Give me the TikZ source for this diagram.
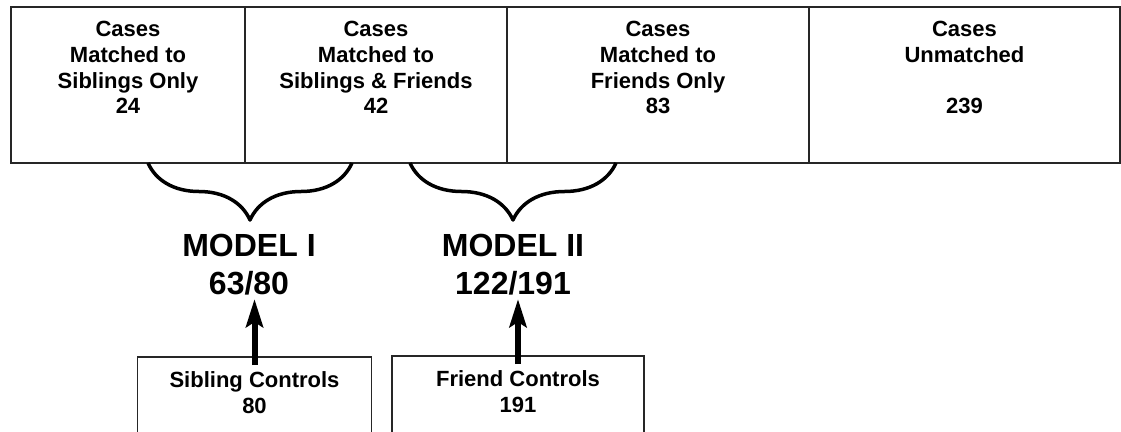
\documentclass[tikz,border=0pt]{standalone}
\usepackage{fontspec}
\setmainfont{Liberation Sans}
\usetikzlibrary{positioning,arrows.meta,decorations.pathreplacing}

\tikzset{
  casebox/.style={draw=black!85, line width=1.6pt, outer sep=0pt, inner sep=0pt,
    minimum height=156pt, align=center, text depth=35pt,
    font=\bfseries\fontsize{22}{25.7}\selectfont},
  ctlbox/.style={draw=black!85, line width=1.6pt, anchor=north, inner sep=0pt,
    minimum height=110pt, align=center, text depth=38pt,
    font=\bfseries\fontsize{22}{26}\selectfont},
  model/.style={anchor=north, align=center, font=\bfseries\fontsize{32}{38}\selectfont},
  bracket/.style={decorate, decoration={brace, amplitude=57pt, mirror},
    line width=3.5pt, line join=round},
  ctlarrow/.style={-{Stealth[length=28pt,width=17pt,inset=5pt]}, line width=6pt}
}

\begin{document}
\begin{tikzpicture}[x=1pt,y=-1pt]
  \useasboundingbox (0,0) rectangle (1121,431);
  \clip (0,0) rectangle (1121,431);
  % cases
  \node[casebox, minimum width=234pt, anchor=north west] (sibonly) at (11,7) {Cases\\Matched to\\Siblings Only\\24};
  \node[casebox, minimum width=262pt, right=0pt of sibonly] (both) {Cases\\Matched to\\Siblings \& Friends\\42};
  \node[casebox, minimum width=302pt, right=0pt of both] (friendonly) {Cases\\Matched to\\Friends Only\\83};
  \node[casebox, minimum width=311pt, right=0pt of friendonly] (unmatched) {Cases\\Unmatched\\\\239};
  % braces
  \coordinate (b1l) at (148,163);
  \coordinate (b1r) at (352,163);
  \coordinate (b2l) at (410,163);
  \coordinate (b2r) at (616,163);
  \draw[bracket] (b1l) -- (b1r);
  \draw[bracket] (b2l) -- (b2r);
  % models
  \node[model] (model1) at (249,231) {MODEL I\\63/80};
  \node[model] (model2) at (513,231) {MODEL II\\122/191};
  % controls
  \node[ctlbox, minimum width=234pt] (sibctl) at (254.5,356) {Sibling Controls\\80};
  \node[ctlbox, minimum width=252pt] (friendctl) at (518,355) {Friend Controls\\191};
  \draw[ctlarrow] ([yshift=-9pt]sibctl.north) -- (sibctl.north |- model1.south);
  \draw[ctlarrow] ([yshift=-9pt]friendctl.north) -- (friendctl.north |- model2.south);
\end{tikzpicture}
\end{document}
